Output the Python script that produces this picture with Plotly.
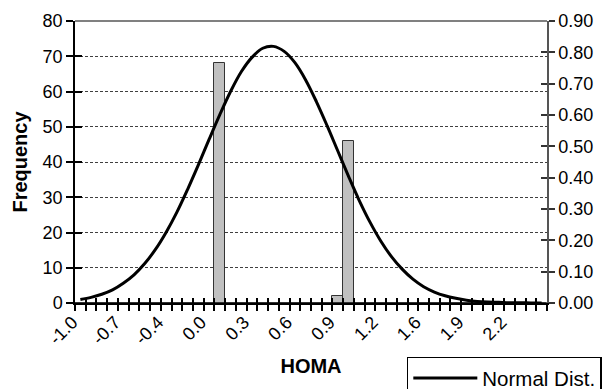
import plotly.graph_objects as go

# HOMA bin centres (category axis of the histogram)
bins = [-1.00, -0.92, -0.84, -0.76, -0.68, -0.60, -0.52, -0.44, -0.36, -0.28,
        -0.20, -0.12, -0.04, 0.04, 0.12, 0.20, 0.28, 0.36, 0.44, 0.52,
        0.60, 0.68, 0.76, 0.84, 0.92, 1.00, 1.08, 1.16, 1.24, 1.32,
        1.40, 1.48, 1.56, 1.64, 1.72, 1.80, 1.88, 1.96, 2.04, 2.12,
        2.20, 2.28, 2.36, 2.44]

# Frequency per bin (left axis)
frequency = [0, 0, 0, 0, 0, 0, 0, 0, 0, 0,
             0, 0, 0, 68, 0, 0, 0, 0, 0, 0,
             0, 0, 0, 0, 2, 46, 0, 0, 0, 0,
             0, 0, 0, 0, 0, 0, 0, 0, 0, 0,
             0, 0, 0, 0]

# Normal distribution density per bin (right axis)
normal = [0.011, 0.018, 0.028, 0.042, 0.063, 0.090, 0.126, 0.171, 0.226, 0.290,
          0.363, 0.441, 0.522, 0.601, 0.675, 0.738, 0.784, 0.813, 0.819, 0.803,
          0.767, 0.712, 0.643, 0.566, 0.485, 0.404, 0.327, 0.258, 0.198, 0.148,
          0.108, 0.076, 0.052, 0.035, 0.023, 0.015, 0.009, 0.005, 0.003, 0.002,
          0.001, 0.001, 0.000, 0.000]

tick_positions = [-1.00, -0.68, -0.36, -0.04, 0.28, 0.60, 0.92, 1.24, 1.56, 1.88, 2.20]
tick_labels = ["-1.0", "-0.7", "-0.4", "0.0", "0.3", "0.6", "0.9", "1.2", "1.6", "1.9", "2.2"]

bin_width = 0.08
x_range = [bins[0] - bin_width / 2, bins[-1] + bin_width / 2]
freq_range = [0, 80]
dens_range = [0, 0.9]

FONT = "Liberation Sans, Arial, sans-serif"
TICK_FONT = dict(family=FONT, size=18, color="black")

fig = go.Figure()
fig.add_trace(go.Bar(
    x=bins, y=frequency, width=bin_width,
    marker=dict(color="#c0c0c0", line=dict(color="#333333", width=1)),
    showlegend=False, hoverinfo="x+y", xaxis="x", yaxis="y"))
fig.add_trace(go.Scatter(
    x=bins, y=normal, mode="lines", name="Normal Dist.",
    line=dict(color="black", width=3, shape="spline", smoothing=1),
    xaxis="x2", yaxis="y2"))
# empty helper traces so the inner-tick overlay axes are drawn
fig.add_trace(go.Scatter(x=[None], y=[None], xaxis="x", yaxis="y3", showlegend=False, hoverinfo="skip"))
fig.add_trace(go.Scatter(x=[None], y=[None], xaxis="x", yaxis="y4", showlegend=False, hoverinfo="skip"))

fig.update_layout(
    width=603, height=389,
    margin=dict(l=75, r=56, t=21, b=86, autoexpand=False),
    paper_bgcolor="white", plot_bgcolor="white",
    bargap=0,
    font=dict(family=FONT, size=18, color="black"),
    xaxis=dict(
        range=x_range, anchor="y", automargin=False,
        tickmode="array", tickvals=tick_positions, ticktext=tick_labels,
        tickangle=-45, ticks="", tickfont=TICK_FONT, ticklabelshift=-8,
        minor=dict(tick0=x_range[0], dtick=bin_width, ticks="outside",
                   ticklen=6, tickwidth=1.5, tickcolor="black", showgrid=False),
        showline=True, linecolor="black", linewidth=1.5,
        showgrid=False, zeroline=False,
        title=dict(text="<b>HOMA</b>", font=dict(family=FONT, size=20), standoff=12),
    ),
    xaxis2=dict(
        range=x_range, overlaying="x", anchor="y", side="bottom", automargin=False,
        tick0=x_range[0], dtick=bin_width, ticks="inside", ticklen=5,
        tickwidth=1.5, tickcolor="black", showticklabels=False,
        showline=False, showgrid=False, zeroline=False,
    ),
    yaxis=dict(
        range=freq_range, anchor="x", automargin=False,
        tick0=0, dtick=10, ticks="outside", ticklen=7, tickwidth=1.5, tickcolor="black",
        tickfont=TICK_FONT,
        showline=True, linecolor="black", linewidth=1.5,
        showgrid=True, gridcolor="#404040", gridwidth=1, griddash="3px,2px",
        zeroline=False,
        title=dict(text="<b>Frequency</b>", font=dict(family=FONT, size=20), standoff=10),
    ),
    yaxis3=dict(
        range=freq_range, overlaying="y", anchor="x", side="left", automargin=False,
        tick0=0, dtick=10, ticks="inside", ticklen=7, tickwidth=1.5, tickcolor="black",
        showticklabels=False, showline=False, showgrid=False, zeroline=False,
    ),
    yaxis2=dict(
        range=dens_range, overlaying="y", anchor="x", side="right", automargin=False,
        tick0=0, dtick=0.1, tickformat=".2f", ticks="outside", ticklen=6,
        tickwidth=1.5, tickcolor="#333333", tickfont=TICK_FONT,
        showline=True, linecolor="#555555", linewidth=1.5,
        showgrid=False, zeroline=False,
    ),
    yaxis4=dict(
        range=dens_range, overlaying="y", anchor="x", side="right", automargin=False,
        tick0=0, dtick=0.1, ticks="inside", ticklen=6, tickwidth=1.5, tickcolor="#333333",
        showticklabels=False, showline=False, showgrid=False, zeroline=False,
    ),
    legend=dict(
        x=0.703, y=-0.19, xanchor="left", yanchor="top",
        bgcolor="white", bordercolor="black", borderwidth=1.5,
        font=dict(family=FONT, size=20.5, color="black"),
        itemwidth=64,
    ),
    shapes=[dict(type="line", xref="paper", yref="paper", x0=0, x1=1, y0=1, y1=1,
                 line=dict(color="#808080", width=2))],
)

fig.write_html("out.html")
